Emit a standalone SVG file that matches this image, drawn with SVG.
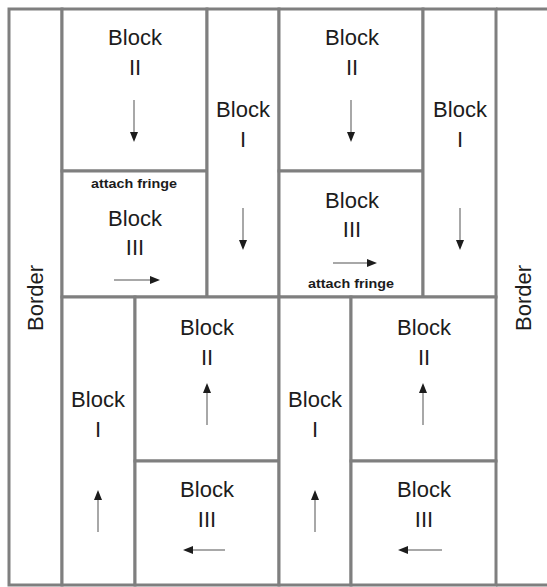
<svg xmlns="http://www.w3.org/2000/svg" width="547" height="587" viewBox="0 0 547 587">
<defs>
<style>
.b{fill:#ffffff;stroke:#7f7f7f;stroke-width:3}
.ln{fill:none;stroke:#7f7f7f;stroke-width:3}
.t{font-family:"Liberation Sans",Arial,sans-serif;font-size:22px;fill:#1c1c1c;text-anchor:middle}
.s{font-family:"Liberation Sans",Arial,sans-serif;font-size:13px;font-weight:bold;fill:#1c1c1c;text-anchor:middle}
.sh{stroke:#a8a8a8;stroke-width:2;fill:none}
.hd{fill:#1c1c1c}
</style>
</defs>
<rect x="0" y="0" width="547" height="587" fill="#ffffff"/>
<g id="border-left">
<rect class="b" x="9" y="9" width="53" height="576"/>
<text class="t" transform="rotate(-90 43 298)" x="43" y="298">Border</text>
</g>
<g id="border-right">
<path class="ln" d="M496 9H547M496 585H547"/>
<text class="t" transform="rotate(-90 531 298)" x="531" y="298">Border</text>
</g>
<g id="block-ii-top-left">
<rect class="b" x="62" y="9" width="145" height="162"/>
<text class="t" x="135" y="45">Block</text>
<text class="t" x="135" y="75">II</text>
</g>
<g id="block-iii-top-left">
<rect class="b" x="62" y="171" width="145" height="126"/>
<text class="s" x="134" y="188" textLength="86" lengthAdjust="spacingAndGlyphs">attach fringe</text>
<text class="t" x="135" y="226">Block</text>
<text class="t" x="135" y="255">III</text>
</g>
<g id="block-i-top-left">
<rect class="b" x="207" y="9" width="72" height="288"/>
<text class="t" x="243" y="117">Block</text>
<text class="t" x="243" y="147">I</text>
</g>
<g id="block-ii-top-right">
<rect class="b" x="279" y="9" width="144" height="162"/>
<text class="t" x="352" y="45">Block</text>
<text class="t" x="352" y="75">II</text>
</g>
<g id="block-iii-top-right">
<rect class="b" x="279" y="171" width="144" height="126"/>
<text class="t" x="352" y="208">Block</text>
<text class="t" x="352" y="237">III</text>
<text class="s" x="351" y="288" textLength="86" lengthAdjust="spacingAndGlyphs">attach fringe</text>
</g>
<g id="block-i-top-right">
<rect class="b" x="423" y="9" width="73" height="288"/>
<text class="t" x="460" y="117">Block</text>
<text class="t" x="460" y="147">I</text>
</g>
<g id="block-i-bottom-left">
<rect class="b" x="62" y="297" width="73" height="288"/>
<text class="t" x="98" y="407">Block</text>
<text class="t" x="98" y="437">I</text>
</g>
<g id="block-ii-bottom-left">
<rect class="b" x="135" y="297" width="144" height="164"/>
<text class="t" x="207" y="335">Block</text>
<text class="t" x="207" y="365">II</text>
</g>
<g id="block-iii-bottom-left">
<rect class="b" x="135" y="461" width="144" height="124"/>
<text class="t" x="207" y="497">Block</text>
<text class="t" x="207" y="527">III</text>
</g>
<g id="block-i-bottom-right">
<rect class="b" x="279" y="297" width="72" height="288"/>
<text class="t" x="315" y="407">Block</text>
<text class="t" x="315" y="437">I</text>
</g>
<g id="block-ii-bottom-right">
<rect class="b" x="351" y="297" width="145" height="164"/>
<text class="t" x="424" y="335">Block</text>
<text class="t" x="424" y="365">II</text>
</g>
<g id="block-iii-bottom-right">
<rect class="b" x="351" y="461" width="145" height="124"/>
<text class="t" x="424" y="497">Block</text>
<text class="t" x="424" y="527">III</text>
</g>
<g id="connectors">
<line class="sh" x1="134" y1="100" x2="134" y2="133"/><polygon class="hd" points="130,132 138,132 134,142"/>
<line class="sh" x1="243" y1="208" x2="243" y2="241"/><polygon class="hd" points="239,240 247,240 243,250"/>
<line class="sh" x1="351" y1="100" x2="351" y2="133"/><polygon class="hd" points="347,132 355,132 351,142"/>
<line class="sh" x1="460" y1="208" x2="460" y2="241"/><polygon class="hd" points="456,240 464,240 460,250"/>
<line class="sh" x1="114" y1="280" x2="151" y2="280"/><polygon class="hd" points="150,276 150,284 160,280"/>
<line class="sh" x1="333" y1="263" x2="368" y2="263"/><polygon class="hd" points="367,259 367,267 377,263"/>
<line class="sh" x1="98" y1="532" x2="98" y2="499"/><polygon class="hd" points="94,500 102,500 98,490"/>
<line class="sh" x1="207" y1="425" x2="207" y2="392"/><polygon class="hd" points="203,393 211,393 207,383"/>
<line class="sh" x1="315" y1="532" x2="315" y2="499"/><polygon class="hd" points="311,500 319,500 315,490"/>
<line class="sh" x1="423" y1="425" x2="423" y2="392"/><polygon class="hd" points="419,393 427,393 423,383"/>
<line class="sh" x1="225" y1="550" x2="192" y2="550"/><polygon class="hd" points="193,546 193,554 183,550"/>
<line class="sh" x1="442" y1="550" x2="407" y2="550"/><polygon class="hd" points="408,546 408,554 398,550"/>
</g>
</svg>
